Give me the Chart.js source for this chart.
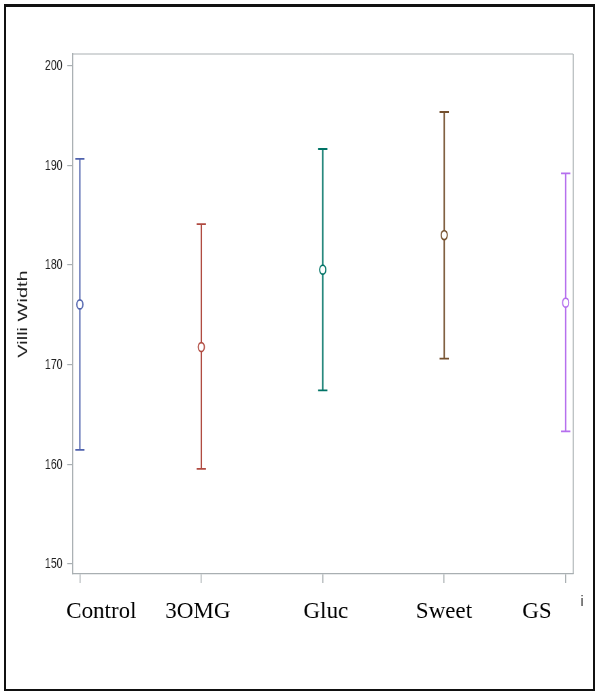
<!DOCTYPE html>
<html>
<head>
<meta charset="utf-8">
<script src="https://cdn.jsdelivr.net/npm/chart.js@4.4.1/dist/chart.umd.min.js"></script>
<style>
  html, body { margin: 0; padding: 0; background: #fff; }
  body { width: 596px; height: 694px; position: relative; overflow: hidden; }
  #wrap { position: absolute; left: 0; top: 0; transform: scaleX(0.68); transform-origin: 0 0; }
  #frame { position: absolute; left: 4px; top: 4px; width: 591px; height: 687px;
           box-sizing: border-box; border: 2px solid #111; border-top-width: 3px; pointer-events: none; }
</style>
</head>
<body>
<div id="wrap"><canvas id="villi" width="876" height="694"></canvas></div>
<div id="frame"></div>
<script>
// groups and their mean villi width with lower / upper limits
var groups = ['Control', '3OMG', 'Gluc', 'Sweet', 'GS'];
var means = [176.05, 171.77, 179.53, 183.0, 176.22];
var lower = [161.45, 159.54, 167.43, 170.6, 163.3];
var upper = [190.64, 184.1, 191.64, 195.35, 189.2];
var yTicks = [150, 160, 170, 180, 190, 200];

// the plot is drawn wide and squeezed sideways by the css transform
var SQUEEZE = 0.68;
var colors = ['#4F62AD', '#B04A40', '#007366', '#74502E', '#B56FEE'];
var frameColor = '#A9AFB2';
var labelShift = [21.5, -3.5, 3.1, -0.2, -28.7];   // px after squeeze
var capHalf = 6.8;

var errorBars = {
    id: 'errorBars',
    beforeDatasetsDraw: function (chart) {
        var ctx = chart.ctx, a = chart.chartArea;
        var x = chart.scales.x, y = chart.scales.y;
        ctx.save();
        // top and right edges of the plot frame
        ctx.strokeStyle = frameColor;
        ctx.lineWidth = 1;
        ctx.beginPath(); ctx.moveTo(a.left, a.top); ctx.lineTo(a.right, a.top); ctx.stroke();
        ctx.lineWidth = 1.5;
        ctx.beginPath(); ctx.moveTo(a.right, a.top); ctx.lineTo(a.right, a.bottom); ctx.stroke();

        groups.forEach(function (g, i) {
            var px = x.getPixelForValue(i + 1);
            var top = y.getPixelForValue(upper[i]);
            var bot = y.getPixelForValue(lower[i]);
            ctx.strokeStyle = colors[i];
            ctx.lineWidth = 2;
            ctx.beginPath();
            ctx.moveTo(px, top); ctx.lineTo(px, bot);
            ctx.stroke();
            ctx.lineWidth = 1.8;
            ctx.beginPath();
            ctx.moveTo(px - capHalf, top); ctx.lineTo(px + capHalf, top);
            ctx.moveTo(px - capHalf, bot); ctx.lineTo(px + capHalf, bot);
            ctx.stroke();
        });
        ctx.restore();
    },
    afterDraw: function (chart) {
        var ctx = chart.ctx, x = chart.scales.x;
        ctx.save();
        ctx.fillStyle = '#000';
        ctx.textAlign = 'center';
        ctx.textBaseline = 'alphabetic';
        ctx.font = '23px "Liberation Serif", "Times New Roman", serif';
        groups.forEach(function (g, i) {
            var px = x.getPixelForValue(i + 1) + labelShift[i] / SQUEEZE;
            ctx.save();
            ctx.translate(px, 618);
            ctx.scale(1 / SQUEEZE, 1);
            ctx.fillText(g, 0, 0);
            ctx.restore();
        });
        ctx.font = '15px "Liberation Sans", Arial, sans-serif';
        ctx.save();
        ctx.translate(582 / SQUEEZE, 606);
        ctx.fillText('i', 0, 0);
        ctx.restore();
        ctx.restore();
    }
};

var ctx = document.getElementById('villi');

var chart = new Chart(ctx, {
    type: 'scatter',
    data: {
        datasets: [{
            label: 'Villi Width',
            data: means.map(function (m, i) { return { x: i + 1, y: m }; }),
            pointStyle: 'circle',
            pointRadius: 4.5,
            pointBorderWidth: 1.8,
            pointBorderColor: colors,
            pointBackgroundColor: '#fff'
        }]
    },
    options: {
        responsive: false,
        animation: false,
        devicePixelRatio: 1,
        layout: { padding: { left: 0, top: 54, right: 33, bottom: 111 } },
        plugins: { legend: { display: false }, tooltip: { enabled: false } },
        scales: {
            x: {
                type: 'linear',
                min: 0.941,
                max: 5.0625,
                afterBuildTicks: function (scale) {
                    scale.ticks = groups.map(function (g, i) { return { value: i + 1 }; });
                },
                ticks: { display: false },
                grid: { drawOnChartArea: false, drawTicks: true, tickLength: 9, color: frameColor, lineWidth: 1.5 },
                border: { display: true, color: frameColor, width: 1.2 }
            },
            y: {
                min: 149.0,
                max: 201.17,
                afterBuildTicks: function (scale) {
                    scale.ticks = yTicks.map(function (v) { return { value: v }; });
                },
                afterFit: function (scale) { scale.width = 106.9; },
                ticks: {
                    color: '#222',
                    padding: 7,
                    font: { family: '"Liberation Sans", Arial, sans-serif', size: 15.5 }
                },
                grid: { drawOnChartArea: false, drawTicks: true, tickLength: 8, color: frameColor, lineWidth: 1.2 },
                border: { display: true, color: frameColor, width: 1.6 },
                title: {
                    display: true,
                    text: 'Villi Width',
                    color: '#222',
                    padding: { top: 22, bottom: 0 },
                    font: { family: '"Liberation Sans", Arial, sans-serif', size: 20 }
                }
            }
        }
    },
    plugins: [errorBars]
});
</script>
</body>
</html>
